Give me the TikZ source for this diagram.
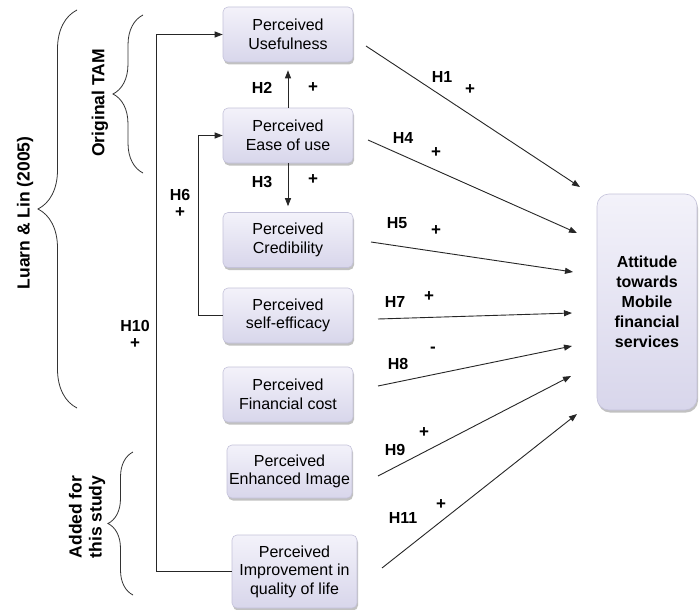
\documentclass[tikz,border=0pt]{standalone}
\usepackage{fontspec}
\setmainfont{Liberation Sans}
\usetikzlibrary{arrows.meta,shadows,decorations.pathreplacing}
\definecolor{boxtop}{HTML}{F3F2FA}
\definecolor{boxbot}{HTML}{D8D6EB}
\definecolor{boxline}{HTML}{C4C2DA}
\begin{document}
\begin{tikzpicture}[x=1pt,y=-1pt,
  box/.style={rounded corners=5pt, draw=boxline, line width=0.6pt,
    top color=boxtop, bottom color=boxbot,
    minimum width=130pt, minimum height=55pt, align=center, inner sep=2pt,
    font=\fontsize{16}{18.5}\selectfont,
    drop shadow={shadow xshift=1pt, shadow yshift=-2.5pt, fill=black!40, opacity=0.6}},
  arr/.style={-{Triangle[length=8pt,width=6pt]}, line width=0.9pt, draw=black!85},
  hyp/.style={font=\bfseries\fontsize{16}{18}\selectfont, inner sep=0pt},
  sign/.style={font=\bfseries\fontsize{17}{18}\selectfont, inner sep=0pt},
  brc/.style={decorate, decoration={brace, amplitude=#1}, line width=0.8pt, draw=black!80},
  grp/.style={font=\bfseries\fontsize{17.5}{20}\selectfont, rotate=90, align=center, inner sep=0pt}]

% canvas
\path[use as bounding box, fill=white] (0,0) rectangle (699,610);

% constructs
\node[box] (pu) at (288,34.5) {Perceived\\Usefulness};
\node[box] (pe) at (288,135.5) {Perceived\\Ease of use};
\node[box] (pc) at (288,240) {Perceived\\Credibility};
\node[box] (ps) at (288,315.5) {Perceived\\self-efficacy};
\node[box] (pf) at (288,394.5) {Perceived\\Financial cost};
\node[box, minimum width=125pt, minimum height=53pt] (pi) at (289.5,471.5) {Perceived\\Enhanced Image};
\node[box, minimum width=125pt, minimum height=73pt] (pq) at (294.5,571.5) {Perceived\\Improvement in\\quality of life};
\node[box, minimum width=100pt, minimum height=216pt, rounded corners=12pt,
  font=\bfseries\fontsize{16}{20}\selectfont] (att) at (647,302)
  {Attitude\\towards\\Mobile\\financial\\services};

% paths among constructs
\draw[arr, shorten >=8pt] (pe.north) -- (pu.south);
\draw[arr, shorten >=6pt] (pe.south) -- (pc.north);
\draw[arr] (pq.west) -- ++(-75,0) |- (pu.west);
\draw[arr] (ps.west) -- ++(-24,0) |- (pe.west);

% paths to attitude
\coordinate (h1s) at (366,46);   \coordinate (h1e) at (580,187);
\coordinate (h4s) at (368,140);  \coordinate (h4e) at (577,233);
\coordinate (h5s) at (371,242);  \coordinate (h5e) at (573,272);
\coordinate (h7s) at (378,319);  \coordinate (h7e) at (572,313);
\coordinate (h8s) at (378,386);  \coordinate (h8e) at (572,346);
\coordinate (h9s) at (378,476);  \coordinate (h9e) at (571,376);
\coordinate (h11s) at (382,568); \coordinate (h11e) at (577,414);
\foreach \h in {h1,h4,h5,h7,h8,h9,h11}
  \draw[arr] (\h s) -- (\h e);

% hypothesis labels
\node[hyp] (l1) at (442,77) {H1};   \node[sign] (s1) at (470,90) {+};
\node[hyp] (l2) at (262,88) {H2};   \node[sign] (s2) at (313,88) {+};
\node[hyp] (l3) at (262,182) {H3};  \node[sign] (s3) at (313,180) {+};
\node[hyp] (l4) at (403,138) {H4};  \node[sign] (s4) at (436,153) {+};
\node[hyp] (l5) at (397,223) {H5};  \node[sign] (s5) at (436,231) {+};
\node[hyp] (l6) at (180,195) {H6};  \node[sign] (s6) at (180,213) {+};
\node[hyp] (l7) at (395,302) {H7};  \node[sign] (s7) at (429,297) {+};
\node[hyp] (l8) at (398,364) {H8};  \node[sign] (s8) at (433,350) {-};
\node[hyp] (l9) at (395,450) {H9};  \node[sign] (s9) at (424,433) {+};
\node[hyp] (l10) at (135,326) {H10}; \node[sign] (s10) at (135,344) {+};
\node[hyp] (l11) at (403,518) {H11}; \node[sign] (s11) at (441,505) {+};

% groupings
\draw[brc=39pt] (77,408) -- (77,10);
\draw[brc=30pt] (143,173) -- (143,15);
\draw[brc=25pt] (133,595) -- (133,452);
\node[grp] (gl) at (25,213) {Luarn \& Lin (2005)};
\node[grp] (gt) at (100,103) {Original TAM};
\node[grp] (ga) at (87,517) {Added for\\this study};
\end{tikzpicture}
\end{document}
